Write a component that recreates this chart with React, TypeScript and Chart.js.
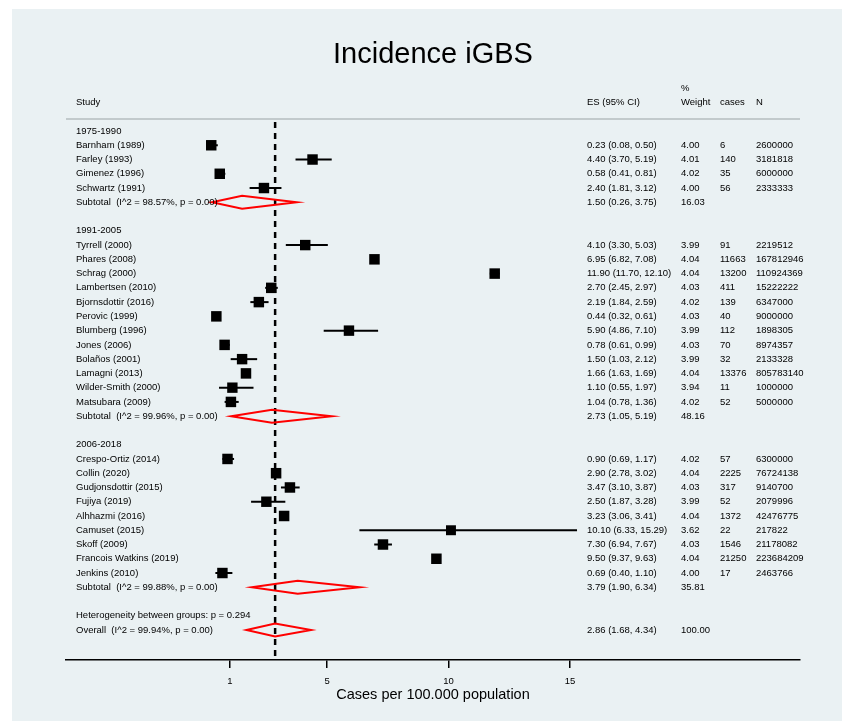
import React, { useEffect, useRef } from 'react';
import { Chart, registerables } from 'chart.js';

Chart.register(...registerables);

const FONT = '"Liberation Sans", Arial, Helvetica, sans-serif';

const groupLabels = ['1975-1990', '1991-2005', '2006-2018'];
const groupSizes = [4, 12, 9];

const studyNames = [
  'Barnham (1989)', 'Farley (1993)', 'Gimenez (1996)', 'Schwartz (1991)',
  'Tyrrell (2000)', 'Phares (2008)', 'Schrag (2000)', 'Lambertsen (2010)', 'Bjornsdottir (2016)',
  'Perovic (1999)', 'Blumberg (1996)', 'Jones (2006)', 'Bolaños (2001)', 'Lamagni (2013)',
  'Wilder-Smith (2000)', 'Matsubara (2009)',
  'Crespo-Ortiz (2014)', 'Collin (2020)', 'Gudjonsdottir (2015)', 'Fujiya (2019)', 'Alhhazmi (2016)',
  'Camuset (2015)', 'Skoff (2009)', 'Francois Watkins (2019)', 'Jenkins (2010)',
];
const esValues = [
  0.23, 4.40, 0.58, 2.40,
  4.10, 6.95, 11.90, 2.70, 2.19, 0.44, 5.90, 0.78, 1.50, 1.66, 1.10, 1.04,
  0.90, 2.90, 3.47, 2.50, 3.23, 10.10, 7.30, 9.50, 0.69,
];
const ciLower = [
  0.08, 3.70, 0.41, 1.81,
  3.30, 6.82, 11.70, 2.45, 1.84, 0.32, 4.86, 0.61, 1.03, 1.63, 0.55, 0.78,
  0.69, 2.78, 3.10, 1.87, 3.06, 6.33, 6.94, 9.37, 0.40,
];
const ciUpper = [
  0.50, 5.19, 0.81, 3.12,
  5.03, 7.08, 12.10, 2.97, 2.59, 0.61, 7.10, 0.99, 2.12, 1.69, 1.97, 1.36,
  1.17, 3.02, 3.87, 3.28, 3.41, 15.29, 7.67, 9.63, 1.10,
];
const weights = [
  4.00, 4.01, 4.02, 4.00,
  3.99, 4.04, 4.04, 4.03, 4.02, 4.03, 3.99, 4.03, 3.99, 4.04, 3.94, 4.02,
  4.02, 4.04, 4.03, 3.99, 4.04, 3.62, 4.03, 4.04, 4.00,
];
const caseCounts = [
  6, 140, 35, 56,
  91, 11663, 13200, 411, 139, 40, 112, 70, 32, 13376, 11, 52,
  57, 2225, 317, 52, 1372, 22, 1546, 21250, 17,
];
const populations = [
  2600000, 3181818, 6000000, 2333333,
  2219512, 167812946, 110924369, 15222222, 6347000, 9000000, 1898305, 8974357, 2133328, 805783140, 1000000, 5000000,
  6300000, 76724138, 9140700, 2079996, 42476775, 217822, 21178082, 223684209, 2463766,
];

const subtotalES = [1.50, 2.73, 3.79];
const subtotalLower = [0.26, 1.05, 1.90];
const subtotalUpper = [3.75, 5.19, 6.34];
const subtotalWeights = [16.03, 48.16, 35.81];
const subtotalI2 = [98.57, 99.96, 99.88];

const overallES = 2.86;
const overallLower = 1.68;
const overallUpper = 4.34;
const overallWeight = 100.0;
const overallI2 = 99.94;
const heterogeneityP = 0.294;

const xTicks = [1, 5, 10, 15];

// ---- row layout (derived) ----
type RowKind = 'group' | 'study' | 'subtotal' | 'het' | 'overall';
interface Row { kind: RowKind; row: number; idx: number; }
const rows: Row[] = [];
(() => {
  let r = 0;
  let s = 0;
  groupLabels.forEach((_, gi) => {
    rows.push({ kind: 'group', row: r++, idx: gi });
    for (let k = 0; k < groupSizes[gi]; k++) rows.push({ kind: 'study', row: r++, idx: s++ });
    rows.push({ kind: 'subtotal', row: r++, idx: gi });
    r++;
  });
  rows.push({ kind: 'het', row: r++, idx: 0 });
  rows.push({ kind: 'overall', row: r++, idx: 0 });
})();

const studyRows = rows.filter((r) => r.kind === 'study');
const diamondRows = rows
  .filter((r) => r.kind === 'subtotal' || r.kind === 'overall')
  .map((r) =>
    r.kind === 'subtotal'
      ? { row: r.row, es: subtotalES[r.idx], lo: subtotalLower[r.idx], hi: subtotalUpper[r.idx] }
      : { row: r.row, es: overallES, lo: overallLower, hi: overallUpper }
  );

const f2 = (v: number) => v.toFixed(2);
const esText = (e: number, l: number, h: number) => `${f2(e)} (${f2(l)}, ${f2(h)})`;

const COL = { study: 76, es: 587, weight: 681, cases: 720, n: 756 };

const backgroundPlugin = {
  id: 'panelBg',
  beforeDraw(chart: any) {
    const { ctx, width, height } = chart;
    ctx.save();
    ctx.fillStyle = '#ffffff';
    ctx.fillRect(0, 0, width, height);
    ctx.fillStyle = '#eaf1f3';
    ctx.fillRect(12, 9, width - 12, height - 9);
    ctx.restore();
  },
};

const forestPlugin = {
  id: 'forest',
  beforeDatasetsDraw(chart: any) {
    const { ctx, chartArea } = chart;
    const x = chart.scales.x;
    const y = chart.scales.y;
    ctx.save();
    // header rule
    ctx.strokeStyle = '#b4bcbf';
    ctx.lineWidth = 1.5;
    ctx.beginPath();
    ctx.moveTo(chartArea.left, chartArea.top);
    ctx.lineTo(chartArea.right, chartArea.top);
    ctx.stroke();
    // overall effect dashed line
    const ox = x.getPixelForValue(overallES);
    ctx.strokeStyle = '#000';
    ctx.lineWidth = 2.5;
    ctx.setLineDash([6, 5]);
    ctx.beginPath();
    ctx.moveTo(ox, chartArea.top + 3);
    ctx.lineTo(ox, chartArea.bottom);
    ctx.stroke();
    ctx.setLineDash([]);
    // confidence intervals
    ctx.lineWidth = 2;
    studyRows.forEach((r) => {
      const py = y.getPixelForValue(r.row);
      ctx.beginPath();
      ctx.moveTo(x.getPixelForValue(ciLower[r.idx]), py);
      ctx.lineTo(x.getPixelForValue(ciUpper[r.idx]), py);
      ctx.stroke();
    });
    ctx.restore();
  },
  afterDatasetsDraw(chart: any) {
    const { ctx } = chart;
    const x = chart.scales.x;
    const y = chart.scales.y;
    ctx.save();
    ctx.strokeStyle = '#ff0000';
    ctx.lineWidth = 2;
    ctx.lineJoin = 'miter';
    diamondRows.forEach((d) => {
      const py = y.getPixelForValue(d.row);
      const h = 6.5;
      ctx.beginPath();
      ctx.moveTo(x.getPixelForValue(d.lo), py);
      ctx.lineTo(x.getPixelForValue(d.es), py - h);
      ctx.lineTo(x.getPixelForValue(d.hi), py);
      ctx.lineTo(x.getPixelForValue(d.es), py + h);
      ctx.closePath();
      ctx.stroke();
    });
    ctx.restore();
  },
  afterDraw(chart: any) {
    const { ctx } = chart;
    const y = chart.scales.y;
    ctx.save();
    ctx.fillStyle = '#000';
    ctx.font = `9.5px ${FONT}`;
    ctx.textAlign = 'left';
    ctx.textBaseline = 'middle';
    const t = (s: string, cx: number, row: number) => ctx.fillText(s, cx, y.getPixelForValue(row));
    // headers
    t('Study', COL.study, -2);
    t('ES (95% CI)', COL.es, -2);
    t('%', COL.weight, -3);
    t('Weight', COL.weight, -2);
    t('cases', COL.cases, -2);
    t('N', COL.n, -2);
    rows.forEach((r) => {
      if (r.kind === 'group') {
        t(groupLabels[r.idx], COL.study, r.row);
      } else if (r.kind === 'study') {
        const i = r.idx;
        t(studyNames[i], COL.study, r.row);
        t(esText(esValues[i], ciLower[i], ciUpper[i]), COL.es, r.row);
        t(f2(weights[i]), COL.weight, r.row);
        t(String(caseCounts[i]), COL.cases, r.row);
        t(String(populations[i]), COL.n, r.row);
      } else if (r.kind === 'subtotal') {
        const g = r.idx;
        t(`Subtotal  (I^2 = ${f2(subtotalI2[g])}%, p = 0.00)`, COL.study, r.row);
        t(esText(subtotalES[g], subtotalLower[g], subtotalUpper[g]), COL.es, r.row);
        t(f2(subtotalWeights[g]), COL.weight, r.row);
      } else if (r.kind === 'het') {
        t(`Heterogeneity between groups: p = ${heterogeneityP.toFixed(3)}`, COL.study, r.row);
      } else {
        t(`Overall  (I^2 = ${f2(overallI2)}%, p = 0.00)`, COL.study, r.row);
        t(esText(overallES, overallLower, overallUpper), COL.es, r.row);
        t(f2(overallWeight), COL.weight, r.row);
      }
    });
    ctx.restore();
  },
};

export default function App() {
  const ref = useRef<HTMLCanvasElement>(null);
  useEffect(() => {
    const canvas = ref.current;
    if (!canvas) return;
    const baseSide = 10.5;
    const chart = new Chart(canvas, {
      type: 'scatter',
      data: {
        datasets: [
          {
            label: 'Studies',
            data: studyRows.map((r) => ({ x: esValues[r.idx], y: r.row })),
            pointStyle: 'rect',
            pointRadius: studyRows.map((r) => (baseSide * Math.sqrt(weights[r.idx] / 4.04)) / (2 * Math.SQRT1_2)),
            pointHoverRadius: 0,
            backgroundColor: '#000',
            borderColor: '#000',
            borderWidth: 0,
          },
        ],
      },
      options: {
        animation: false,
        responsive: false,
        devicePixelRatio: 1,
        layout: { padding: { left: 66, right: 42, top: 0, bottom: 17.2 } },
        plugins: {
          legend: { display: false },
          tooltip: { enabled: false },
          title: {
            display: true,
            text: 'Incidence iGBS',
            color: '#000',
            font: { family: FONT, size: 29, weight: 'normal' },
            padding: { top: 38, bottom: 46.2 },
          },
        },
        scales: {
          x: {
            type: 'linear',
            min: -5.75,
            max: 24.47,
            afterBuildTicks: (axis: any) => {
              axis.ticks = xTicks.map((v) => ({ value: v }));
            },
            grid: { drawOnChartArea: false, drawTicks: true, tickLength: 8, color: '#000', lineWidth: 1.5 },
            border: { display: true, color: '#000', width: 1.5 },
            ticks: {
              color: '#000',
              font: { family: FONT, size: 9.5 },
              padding: 8,
              autoSkip: false,
              maxRotation: 0,
              callback: (v: any) => String(v),
            },
            title: {
              display: true,
              text: 'Cases per 100.000 population',
              color: '#000',
              font: { family: FONT, size: 14.5 },
              padding: { top: -9, bottom: 0 },
            },
          },
          y: {
            type: 'linear',
            display: false,
            reverse: true,
            min: -0.842,
            max: 37.1,
          },
        },
      },
      plugins: [backgroundPlugin, forestPlugin],
    } as any);
    return () => chart.destroy();
  }, []);
  return (
    <div style={{ position: 'absolute', left: 0, top: 0, width: 842, height: 721 }}>
      <canvas ref={ref} width={842} height={721} style={{ display: 'block', width: 842, height: 721 }} />
    </div>
  );
}
